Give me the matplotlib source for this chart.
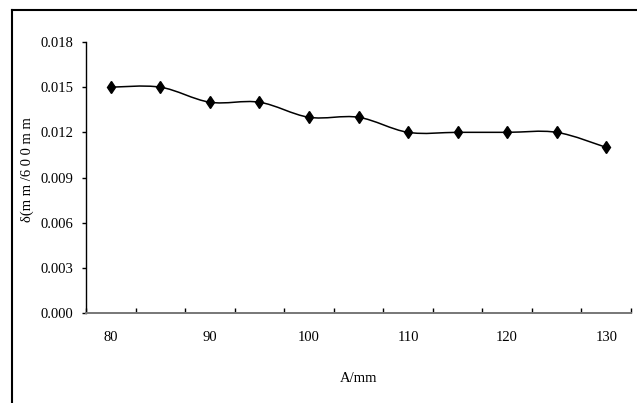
import numpy as np
import matplotlib
matplotlib.use("Agg")
import matplotlib.pyplot as plt
from matplotlib.path import Path
from matplotlib.patches import PathPatch
from matplotlib.lines import Line2D

# Data
a_mm = [80, 85, 90, 95, 100, 105, 110, 115, 120, 125, 130]
delta = [0.015, 0.015, 0.014, 0.014, 0.013, 0.013, 0.012, 0.012, 0.012, 0.012, 0.011]
x_labels = [80, 90, 100, 110, 120, 130]
y_ticks = [0.000, 0.003, 0.006, 0.009, 0.012, 0.015, 0.018]

plt.rcParams["font.family"] = ["Liberation Serif", "DejaVu Serif"]

fig = plt.figure(figsize=(6.37, 4.03), dpi=100)
ax = fig.add_axes([0.135, 0.2233, 0.8556, 0.6725])

# smoothed line like Excel (Catmull-Rom style bezier)
x = np.array(a_mm, dtype=float)
y = np.array(delta, dtype=float)
n = len(x)
verts = [(x[0], y[0])]
codes = [Path.MOVETO]
for i in range(n - 1):
    p0 = i - 1 if i > 0 else i
    p3 = i + 2 if i + 2 < n else i + 1
    c1 = (x[i] + (x[i + 1] - x[p0]) / 6, y[i] + (y[i + 1] - y[p0]) / 6)
    c2 = (x[i + 1] - (x[p3] - x[i]) / 6, y[i + 1] - (y[p3] - y[i]) / 6)
    verts += [c1, c2, (x[i + 1], y[i + 1])]
    codes += [Path.CURVE4] * 3
ax.add_patch(PathPatch(Path(verts, codes), fill=False, edgecolor="black", lw=1.1))
ax.plot(a_mm, delta, linestyle="none", marker="d", markersize=6.5, color="black", zorder=3)

ax.set_xlim(77.5, 132.5)
ax.set_ylim(0, 0.018)
ax.set_yticks(y_ticks)
ax.set_yticklabels([f"{v:.3f}" for v in y_ticks], fontsize=10.5)
ax.set_xticks(x_labels)
ax.set_xticklabels([str(v) for v in x_labels], fontsize=10.5)
ax.set_xticks(np.arange(77.5, 133, 5), minor=True)
ax.tick_params(axis="x", which="major", length=0, pad=13)
ax.tick_params(axis="x", which="minor", direction="in", length=3.5, width=1, color="black")
ax.tick_params(axis="y", direction="out", length=3, width=1, pad=6)

for s in ["top", "right"]:
    ax.spines[s].set_visible(False)
ax.spines["left"].set_linewidth(1)
ax.spines["bottom"].set_linewidth(1.4)
ax.spines["bottom"].set_color("#777777")

ax.set_xlabel("A/mm", fontsize=10.5, labelpad=20)
ax.set_ylabel("δ(m m /6 0 0 m m", fontsize=10.5)
ax.yaxis.set_label_coords(-0.095, 0.53)

# outer chart frame
fig.add_artist(Line2D([12 / 637, 12 / 637], [0, 1 - 10 / 403], color="black", lw=1.5))
fig.add_artist(Line2D([12 / 637, 1], [1 - 10 / 403, 1 - 10 / 403], color="black", lw=1.5))

fig.savefig("out.png", dpi=100)
